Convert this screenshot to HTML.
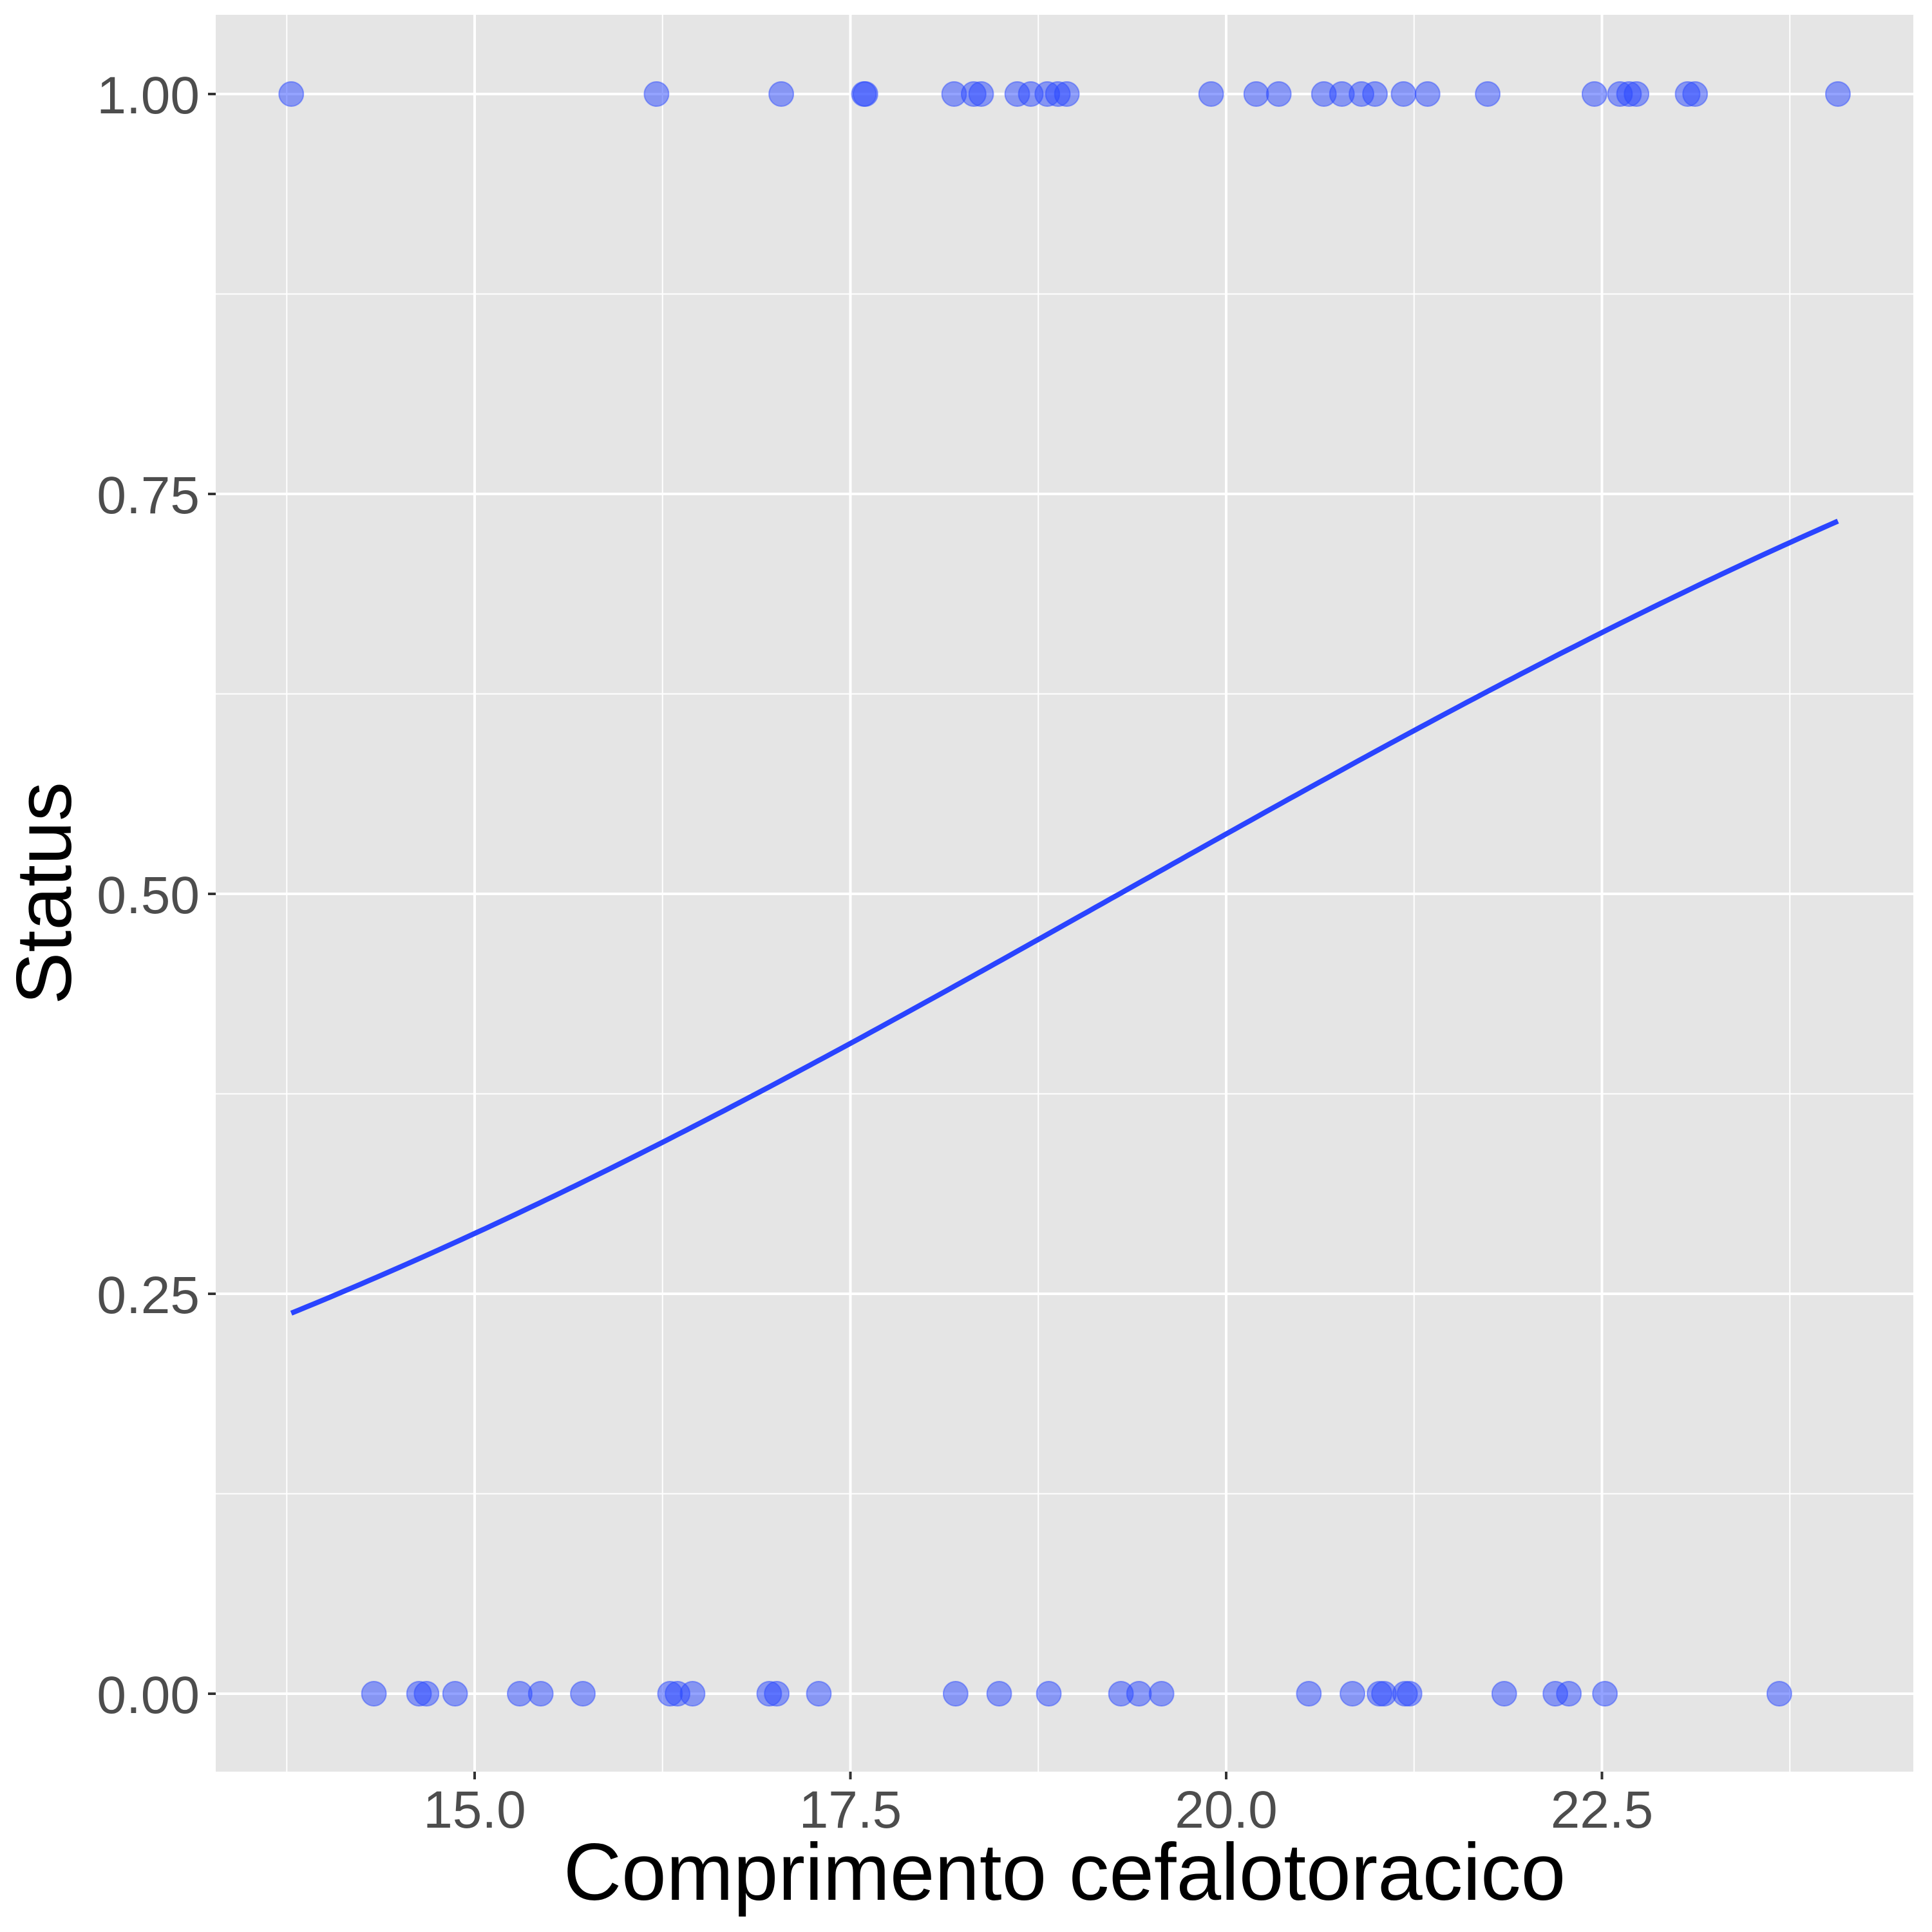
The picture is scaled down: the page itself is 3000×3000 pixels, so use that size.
<!DOCTYPE html>
<html><head><meta charset="utf-8"><style>
html,body{margin:0;padding:0;background:#fff;}
svg{display:block;}
</style></head><body>
<svg id="chart" width="3000" height="3000" viewBox="0 0 3000 3000" xmlns="http://www.w3.org/2000/svg">
<rect x="335" y="23" width="2636" height="2728" fill="#e5e5e5"/>
<g id="grid"></g>
<g id="points"></g>
<g id="curve"></g>
<g id="axes"></g>
<text x="1653" y="2950" text-anchor="middle" font-family="Liberation Sans, sans-serif" font-size="125" fill="#000">Comprimento cefalotoracico</text>
<text transform="translate(110,1387) rotate(-90)" text-anchor="middle" font-family="Liberation Sans, sans-serif" font-size="122" fill="#000">Status</text>
</svg>
<script>
const xTicks = [15.0, 17.5, 20.0, 22.5];
const xTickLabels = ["15.0", "17.5", "20.0", "22.5"];
const xMinor = [13.75, 16.25, 18.75, 21.25, 23.75];
const yTicks = [0, 0.25, 0.5, 0.75, 1];
const yTickLabels = ["0.00", "0.25", "0.50", "0.75", "1.00"];
const yMinor = [0.125, 0.375, 0.625, 0.875];
const status1X = [13.78,16.21,17.04,17.59,17.60,18.19,18.32,18.37,18.61,18.70,18.81,18.88,18.94,19.90,20.20,20.35,20.65,20.77,20.90,20.99,21.18,21.34,21.74,22.45,22.62,22.68,22.73,23.07,23.12,24.07];
const status0X = [14.33,14.63,14.68,14.87,15.30,15.44,15.72,16.30,16.35,16.45,16.96,17.01,17.29,18.20,18.49,18.82,19.30,19.42,19.57,20.55,20.84,21.02,21.05,21.19,21.22,21.85,22.19,22.28,22.52,23.68];
const fitCoef = [-4.076, 0.2113];

const NS = "http://www.w3.org/2000/svg";
const PL = 335, PR = 2971, PT = 23, PB = 2751;
function xs(v){ return 737 + (v - 15) * 233.4; }
function ys(v){ return 2630 - v * 2484; }
function mk(tag, attrs, parent){ const e = document.createElementNS(NS, tag); for (const k in attrs) e.setAttribute(k, attrs[k]); parent.appendChild(e); return e; }

const grid = document.getElementById('grid');
xMinor.forEach(v => { const l = mk('line', {x1: xs(v), x2: xs(v), y1: PT, y2: PB, stroke: '#fff', 'stroke-width': 2}, grid);
  
   });
yMinor.forEach(v => { const l = mk('line', {x1: PL, x2: PR, y1: ys(v), y2: ys(v), stroke: '#fff', 'stroke-width': 2}, grid);
  
   });
xTicks.forEach(v => { const l = mk('line', {x1: xs(v), x2: xs(v), y1: PT, y2: PB, stroke: '#fff', 'stroke-width': 4}, grid);
  
   });
yTicks.forEach(v => { const l = mk('line', {x1: PL, x2: PR, y1: ys(v), y2: ys(v), stroke: '#fff', 'stroke-width': 4}, grid);
  
   });

const pts = document.getElementById('points');
function drawPts(arr, s, name){ arr.forEach(v => { const c = mk('circle', {cx: xs(v), cy: ys(s), r: 19, fill: 'rgba(40,70,255,0.5)', stroke: 'rgba(40,70,255,0.45)', 'stroke-width': 2}, pts);
  
   }); }
drawPts(status1X, 1, 'point-status-1');
drawPts(status0X, 0, 'point-status-0');

const curveG = document.getElementById('curve');
const x0 = Math.min(...status1X, ...status0X), x1 = Math.max(...status1X, ...status0X);
let d = '';
for (let i = 0; i <= 200; i++){ const x = x0 + (x1 - x0) * i / 200; const p = 1 / (1 + Math.exp(-(fitCoef[0] + fitCoef[1] * x)));
  d += (i ? 'L' : 'M') + xs(x).toFixed(1) + ',' + ys(p).toFixed(1); }
const path = mk('path', {d: d, fill: 'none', stroke: '#2a44ff', 'stroke-width': 8}, curveG);



const axes = document.getElementById('axes');
xTicks.forEach((v, i) => {
  const t = mk('line', {x1: xs(v), x2: xs(v), y1: PB, y2: PB + 12, stroke: '#333', 'stroke-width': 4}, axes);
  
  
  const tx = mk('text', {x: xs(v), y: 2838, 'text-anchor': 'middle', 'font-family': 'Liberation Sans, sans-serif', 'font-size': 82, fill: '#4d4d4d'}, axes);
  tx.textContent = xTickLabels[i];
  
  
});
yTicks.forEach((v, i) => {
  const t = mk('line', {x1: PL - 12, x2: PL, y1: ys(v), y2: ys(v), stroke: '#333', 'stroke-width': 4}, axes);
  
  
  const tx = mk('text', {x: 310, y: ys(v) + 30, 'text-anchor': 'end', 'font-family': 'Liberation Sans, sans-serif', 'font-size': 82, fill: '#4d4d4d'}, axes);
  tx.textContent = yTickLabels[i];
  
  
});
</script>
</body></html>
